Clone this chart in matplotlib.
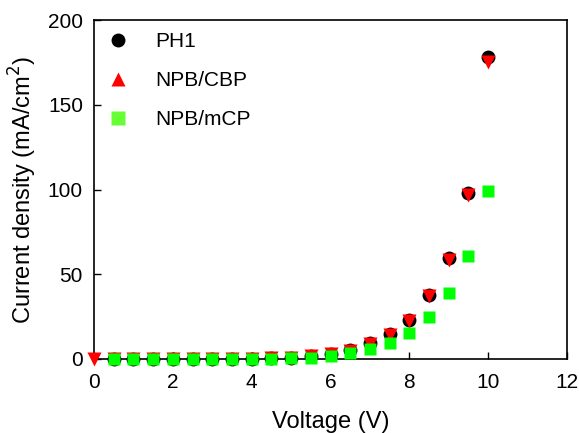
import numpy as np
import matplotlib.pyplot as plt
from matplotlib.lines import Line2D

plt.rcParams['font.family'] = ['Liberation Sans', 'DejaVu Sans']

# voltage sweep (V)
v_ph1 = [0.5, 1.0, 1.5, 2.0, 2.5, 3.0, 3.5, 4.0, 4.5, 5.0, 5.5, 6.0, 6.5, 7.0, 7.5, 8.0, 8.5, 9.0, 9.5, 10.0]
v_cbp = [0.0, 0.5, 1.0, 1.5, 2.0, 2.5, 3.0, 3.5, 4.0, 4.5, 5.0, 5.5, 6.0, 6.5, 7.0, 7.5, 8.0, 8.5, 9.0, 9.5, 10.0]
v_mcp = [0.5, 1.0, 1.5, 2.0, 2.5, 3.0, 3.5, 4.0, 4.5, 5.0, 5.5, 6.0, 6.5, 7.0, 7.5, 8.0, 8.5, 9.0, 9.5, 10.0]

# current density (mA/cm2)
j_ph1 = [0.1, 0.1, 0.1, 0.1, 0.1, 0.1, 0.2, 0.2, 0.4, 0.8, 1.8, 3.0, 5.2, 9.2, 14.5, 23.0, 37.5, 59.5, 98.0, 178.0]
j_cbp = [0.0, 0.0, 0.0, 0.0, 0.0, 0.0, 0.0, 0.1, 0.1, 0.3, 0.7, 1.5, 2.8, 5.0, 9.0, 14.0, 22.5, 37.0, 58.5, 97.0, 175.0]
j_mcp = [0.1, 0.1, 0.1, 0.1, 0.1, 0.1, 0.1, 0.1, 0.2, 0.3, 0.7, 1.6, 3.5, 6.0, 9.5, 15.5, 24.5, 39.0, 61.0, 99.0]

fig = plt.figure(figsize=(5.79, 4.33), dpi=100)
ax = fig.add_axes([94 / 579, 1 - 359 / 433, 473 / 579, 339 / 433])

ax.plot(v_ph1, j_ph1, 'o', color='black', ms=10, mec='none', zorder=3, clip_on=False)
ax.plot(v_cbp, j_cbp, 'v', color='#ff0000', ms=10, mec='none', zorder=4, clip_on=False)
ax.plot(v_mcp, j_mcp, 's', color='#00ff00', ms=9, mec='none', zorder=5, clip_on=False)

ax.set_xlim(0, 12)
ax.set_ylim(0, 200)
ax.set_xticks(np.arange(0, 13, 2))
ax.set_yticks(np.arange(0, 201, 50))
ax.tick_params(direction='in', length=5, width=1, labelsize=15,
               top=False, right=False)
ax.tick_params(axis='x', pad=10)
ax.tick_params(axis='y', pad=8)
for s in ax.spines.values():
    s.set_linewidth(1.2)
ax.set_xlabel('Voltage (V)', fontsize=17, labelpad=14)
ax.set_ylabel('Current density (mA/cm$^2$)', fontsize=17, labelpad=6)

handles = [
    Line2D([], [], ls='none', marker='o', color='black', ms=10, mec='none'),
    Line2D([], [], ls='none', marker='^', color='#ff0000', ms=10, mec='none'),
    Line2D([], [], ls='none', marker='s', color='#66ff33', ms=10, mec='none'),
]
ax.legend(handles, ['PH1', 'NPB/CBP', 'NPB/mCP'], loc='upper left',
          frameon=False, fontsize=15, handlelength=1.0, handletextpad=1.28,
          labelspacing=0.97, borderaxespad=0.25, bbox_to_anchor=(0.0, 1.005))

fig.savefig('out.png', dpi=100)
